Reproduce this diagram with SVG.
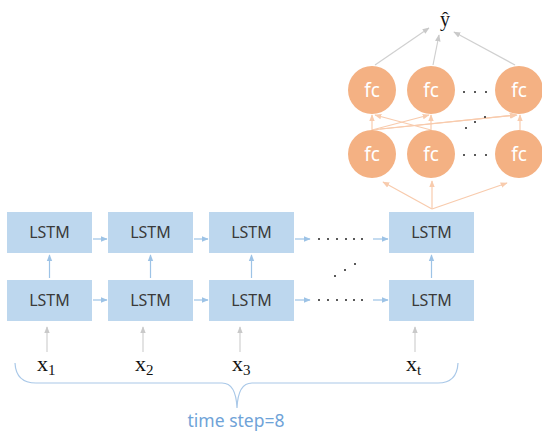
<svg xmlns="http://www.w3.org/2000/svg" width="542" height="433" viewBox="0 0 542 433">
  <defs>
    <marker id="ah-blue" viewBox="0 0 10 10" refX="9" refY="5" markerWidth="7" markerHeight="7" orient="auto" markerUnits="userSpaceOnUse">
      <path d="M0,1 L10,5 L0,9 Z" fill="#9dc3e6"/>
    </marker>
    <marker id="ah-gray" viewBox="0 0 10 10" refX="9" refY="5" markerWidth="7" markerHeight="7" orient="auto" markerUnits="userSpaceOnUse">
      <path d="M0,1 L10,5 L0,9 Z" fill="#c9c9c9"/>
    </marker>
    <marker id="ah-orange" viewBox="0 0 10 10" refX="9" refY="5" markerWidth="7" markerHeight="7" orient="auto" markerUnits="userSpaceOnUse">
      <path d="M0,1 L10,5 L0,9 Z" fill="#f8cbad"/>
    </marker>
  </defs>
  <style>
    .box { fill: #bdd7ee; }
    .lbl { font-family: "Noto Sans", "Open Sans", sans-serif; font-size: 16px; fill: #3a3a3a; text-anchor: middle; }
    .fc { fill: #f4b183; }
    .fct { font-family: "Noto Sans", "Open Sans", sans-serif; font-size: 19px; fill: #ffffff; text-anchor: middle; }
    .blue { stroke: #9dc3e6; stroke-width: 1.2; fill: none; marker-end: url(#ah-blue); }
    .gray { stroke: #d0d0d0; stroke-width: 1.2; fill: none; marker-end: url(#ah-gray); }
    .orange { stroke: #f8cbad; stroke-width: 1.2; fill: none; marker-end: url(#ah-orange); }
    .dot { fill: #222; }
    .math { font-family: "Liberation Serif", "DejaVu Serif", serif; fill: #111; }
  </style>

  <rect width="542" height="433" fill="#ffffff"/>

  <!-- connectors -->
  <g id="connectors">
    <!-- recurrent links, upper layer -->
    <line class="blue" x1="93" y1="239" x2="107" y2="239"/>
    <line class="blue" x1="194" y1="239" x2="208" y2="239"/>
    <line class="blue" x1="295" y1="239" x2="310" y2="239"/>
    <line class="blue" x1="373" y1="239" x2="388" y2="239"/>
    <!-- recurrent links, lower layer -->
    <line class="blue" x1="93" y1="300" x2="107" y2="300"/>
    <line class="blue" x1="194" y1="300" x2="208" y2="300"/>
    <line class="blue" x1="295" y1="300" x2="310" y2="300"/>
    <line class="blue" x1="373" y1="300" x2="388" y2="300"/>
    <!-- layer to layer -->
    <line class="blue" x1="49.5" y1="278" x2="49.5" y2="255"/>
    <line class="blue" x1="150.5" y1="278" x2="150.5" y2="255"/>
    <line class="blue" x1="251.5" y1="278" x2="251.5" y2="255"/>
    <line class="blue" x1="431.5" y1="278" x2="431.5" y2="255"/>
    <!-- inputs -->
    <line class="gray" x1="47" y1="352" x2="47" y2="327"/>
    <line class="gray" x1="143" y1="352" x2="143" y2="327"/>
    <line class="gray" x1="240" y1="352" x2="240" y2="327"/>
    <line class="gray" x1="415" y1="352" x2="415" y2="327"/>
    <!-- last LSTM to first dense layer -->
    <line class="orange" x1="432" y1="209" x2="383" y2="182"/>
    <line class="orange" x1="432" y1="209" x2="432" y2="181"/>
    <line class="orange" x1="432" y1="209" x2="507" y2="183"/>
    <!-- dense to dense -->
    <line class="orange" x1="372" y1="130" x2="372" y2="115"/>
    <line class="orange" x1="372" y1="130" x2="429" y2="115"/>
    <line class="orange" x1="372" y1="130" x2="516" y2="115"/>
    <line class="orange" x1="431" y1="130" x2="375" y2="115"/>
    <line class="orange" x1="431" y1="130" x2="431" y2="115"/>
    <line class="orange" x1="380" y1="129" x2="517" y2="115"/>
    <line class="orange" x1="520" y1="130" x2="520" y2="115"/>
    <!-- dense to output -->
    <line class="gray" x1="375" y1="65" x2="429" y2="28"/>
    <line class="gray" x1="433" y1="65" x2="439" y2="35"/>
    <line class="gray" x1="515" y1="65" x2="454" y2="32"/>
  </g>

  <!-- LSTM cells, upper layer -->
  <g id="lstm-top-1"><rect class="box" x="7" y="212" width="85" height="41"/><text class="lbl" x="49.5" y="238">LSTM</text></g>
  <g id="lstm-top-2"><rect class="box" x="108" y="212" width="85" height="41"/><text class="lbl" x="150.5" y="238">LSTM</text></g>
  <g id="lstm-top-3"><rect class="box" x="209" y="212" width="85" height="41"/><text class="lbl" x="251.5" y="238">LSTM</text></g>
  <g id="lstm-top-t"><rect class="box" x="389" y="212" width="85" height="41"/><text class="lbl" x="431.5" y="238">LSTM</text></g>
  <!-- LSTM cells, lower layer -->
  <g id="lstm-bot-1"><rect class="box" x="7" y="280" width="85" height="41"/><text class="lbl" x="49.5" y="306">LSTM</text></g>
  <g id="lstm-bot-2"><rect class="box" x="108" y="280" width="85" height="41"/><text class="lbl" x="150.5" y="306">LSTM</text></g>
  <g id="lstm-bot-3"><rect class="box" x="209" y="280" width="85" height="41"/><text class="lbl" x="251.5" y="306">LSTM</text></g>
  <g id="lstm-bot-t"><rect class="box" x="389" y="280" width="85" height="41"/><text class="lbl" x="431.5" y="306">LSTM</text></g>

  <!-- ellipses along the time axis -->
  <g id="ellipsis-time">
    <circle class="dot" cx="319" cy="239" r="1"/><circle class="dot" cx="328" cy="239" r="1"/><circle class="dot" cx="337" cy="239" r="1"/>
    <circle class="dot" cx="346" cy="239" r="1"/><circle class="dot" cx="354" cy="239" r="1"/><circle class="dot" cx="362" cy="239" r="1"/>
    <circle class="dot" cx="319" cy="300" r="1"/><circle class="dot" cx="328" cy="300" r="1"/><circle class="dot" cx="337" cy="300" r="1"/>
    <circle class="dot" cx="346" cy="300" r="1"/><circle class="dot" cx="354" cy="300" r="1"/><circle class="dot" cx="362" cy="300" r="1"/>
    <circle class="dot" cx="335" cy="276" r="1"/><circle class="dot" cx="345" cy="270" r="1"/><circle class="dot" cx="355" cy="264" r="1"/>
  </g>

  <!-- dense layers -->
  <g id="fc-bot-1"><circle class="fc" cx="372" cy="154" r="24"/><text class="fct" x="372" y="161">fc</text></g>
  <g id="fc-bot-2"><circle class="fc" cx="431" cy="154" r="24"/><text class="fct" x="431" y="161">fc</text></g>
  <g id="fc-bot-3"><circle class="fc" cx="519" cy="154" r="24"/><text class="fct" x="519" y="161">fc</text></g>
  <g id="fc-top-1"><circle class="fc" cx="372" cy="90" r="24"/><text class="fct" x="372" y="97">fc</text></g>
  <g id="fc-top-2"><circle class="fc" cx="431" cy="90" r="24"/><text class="fct" x="431" y="97">fc</text></g>
  <g id="fc-top-3"><circle class="fc" cx="519" cy="90" r="24"/><text class="fct" x="519" y="97">fc</text></g>
  <g id="ellipsis-fc">
    <circle class="dot" cx="464" cy="92" r="1"/><circle class="dot" cx="475" cy="92" r="1"/><circle class="dot" cx="486" cy="92" r="1"/>
    <circle class="dot" cx="464" cy="155" r="1"/><circle class="dot" cx="475" cy="155" r="1"/><circle class="dot" cx="486" cy="155" r="1"/>
    <circle class="dot" cx="466" cy="128" r="1"/><circle class="dot" cx="475" cy="122" r="1"/><circle class="dot" cx="485" cy="117" r="1"/>
  </g>

  <!-- output -->
  <g id="output"><text class="math" x="445" y="26" font-size="20" text-anchor="middle">ŷ</text></g>

  <!-- inputs -->
  <g id="inputs">
    <text class="math" x="37" y="371" font-size="22">x<tspan font-size="15" dy="4">1</tspan></text>
    <text class="math" x="135" y="371" font-size="22">x<tspan font-size="15" dy="4">2</tspan></text>
    <text class="math" x="232" y="371" font-size="22">x<tspan font-size="15" dy="4">3</tspan></text>
    <text class="math" x="406" y="371" font-size="22">x<tspan font-size="15" dy="4">t</tspan></text>
  </g>

  <!-- time-step brace -->
  <g id="brace">
    <path d="M15,363 Q16,383 36,383 L222,383 Q236,383 237,408 Q238,383 252,383 L438,383 Q457,383 458,363" fill="none" stroke="#a9c8e8" stroke-width="1.2"/>
    <text x="236" y="427" font-family="Noto Sans, Open Sans, sans-serif" font-size="17.5" fill="#6fa3d8" text-anchor="middle">time step=8</text>
  </g>
</svg>
